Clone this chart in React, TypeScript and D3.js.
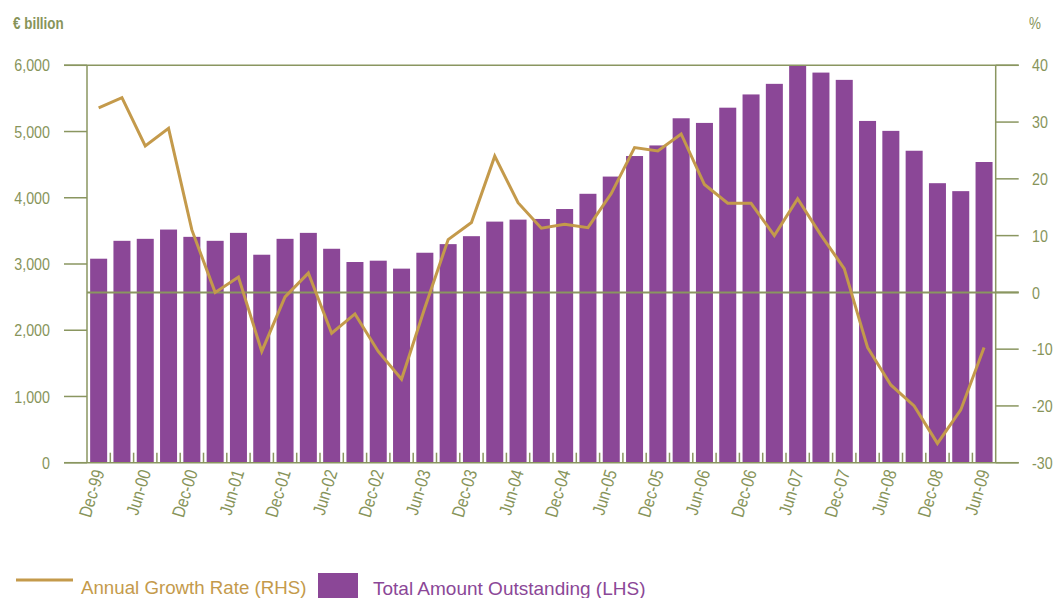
import * as d3 from "d3";
import React from "react";

const quarters = [
  "Dec-99", "Mar-00", "Jun-00", "Sep-00", "Dec-00", "Mar-01", "Jun-01", "Sep-01",
  "Dec-01", "Mar-02", "Jun-02", "Sep-02", "Dec-02", "Mar-03", "Jun-03", "Sep-03",
  "Dec-03", "Mar-04", "Jun-04", "Sep-04", "Dec-04", "Mar-05", "Jun-05", "Sep-05",
  "Dec-05", "Mar-06", "Jun-06", "Sep-06", "Dec-06", "Mar-07", "Jun-07", "Sep-07",
  "Dec-07", "Mar-08", "Jun-08", "Sep-08", "Dec-08", "Mar-09", "Jun-09",
];

// Total Amount Outstanding (LHS), € billion
const amounts = [
  3080, 3350, 3380, 3520, 3410, 3350, 3470, 3140, 3380, 3470,
  3230, 3030, 3050, 2930, 3170, 3300, 3420, 3640, 3670, 3680,
  3830, 4060, 4320, 4630, 4790, 5200, 5130, 5360, 5560, 5720,
  5990, 5890, 5780, 5160, 5010, 4710, 4220, 4100, 4540,
];

// Annual Growth Rate (RHS), %
const growth = [
  32.5, 34.3, 25.8, 28.9, 11.0, 0.0, 2.7, -10.4, -0.8, 3.4,
  -7.2, -3.8, -10.4, -15.3, -2.7, 9.3, 12.3, 24.0, 15.8, 11.3,
  12.0, 11.4, 17.4, 25.5, 24.9, 27.9, 19.0, 15.7, 15.7, 10.0,
  16.5, 10.1, 4.2, -9.7, -16.3, -20.0, -26.6, -20.7, -9.7,
];

const leftTicks = [0, 1000, 2000, 3000, 4000, 5000, 6000];
const rightTicks = [-30, -20, -10, 0, 10, 20, 30, 40];

const BAR = "#8b4797";
const LINE = "#c49a4b";
const AXIS = "#8a9660";
const TEXT = "#87945a";
const SANS = "'Liberation Sans', Arial, Helvetica, sans-serif";
const SQUEEZE = 0.84; // condensed look

export default function App() {
  const ref = React.useRef<SVGSVGElement>(null);

  React.useEffect(() => {
    const svg = d3.select(ref.current);
    svg.selectAll("*").remove();

    const left = 87, right = 995.7, top = 65.3, bottom = 462.7;
    const tickOut = 23;

    const x = d3.scaleBand<string>()
      .domain(quarters)
      .range([left, right])
      .paddingInner(0.27)
      .paddingOuter(0.135);
    const step = x.step();
    const cx = (q: string) => (x(q) as number) + x.bandwidth() / 2;

    const yL = d3.scaleLinear().domain([0, 6000]).range([bottom, top]);
    const yR = d3.scaleLinear().domain([-30, 40]).range([bottom, top]);

    // bars
    svg.append("g")
      .selectAll("rect")
      .data(amounts)
      .enter()
      .append("rect")
      .attr("x", (d, i) => x(quarters[i]) as number)
      .attr("y", (d) => yL(d))
      .attr("width", x.bandwidth())
      .attr("height", (d) => bottom - yL(d))
      .attr("fill", BAR);

    const axis = svg.append("g")
      .attr("stroke", AXIS)
      .attr("stroke-width", 1.5)
      .attr("fill", "none");

    // frame lines
    axis.append("line").attr("x1", left - tickOut).attr("x2", right + tickOut)
      .attr("y1", top).attr("y2", top);
    axis.append("line").attr("x1", left - tickOut).attr("x2", right + tickOut)
      .attr("y1", bottom).attr("y2", bottom);
    axis.append("line").attr("x1", left).attr("x2", left).attr("y1", top).attr("y2", bottom);
    axis.append("line").attr("x1", right).attr("x2", right).attr("y1", top).attr("y2", bottom);
    // zero line
    axis.append("line").attr("x1", left).attr("x2", right + tickOut)
      .attr("y1", yR(0)).attr("y2", yR(0)).attr("stroke-width", 2);

    // left ticks
    axis.selectAll(".lt")
      .data(leftTicks)
      .enter()
      .append("line")
      .attr("x1", left - tickOut).attr("x2", left)
      .attr("y1", (d) => yL(d)).attr("y2", (d) => yL(d));
    // right ticks
    axis.selectAll(".rt")
      .data(rightTicks)
      .enter()
      .append("line")
      .attr("x1", right).attr("x2", right + tickOut)
      .attr("y1", (d) => yR(d)).attr("y2", (d) => yR(d));
    // category ticks between bars
    axis.selectAll(".ct")
      .data(quarters.slice(1))
      .enter()
      .append("line")
      .attr("x1", (d, i) => left + (i + 1) * step)
      .attr("x2", (d, i) => left + (i + 1) * step)
      .attr("y1", bottom - 10).attr("y2", bottom);

    // growth line
    const line = d3.line<number>()
      .x((d, i) => cx(quarters[i]))
      .y((d) => yR(d));
    svg.append("path")
      .datum(growth)
      .attr("d", line)
      .attr("fill", "none")
      .attr("stroke", LINE)
      .attr("stroke-width", 3)
      .attr("stroke-linejoin", "miter");

    // left labels
    svg.append("g")
      .selectAll("text")
      .data(leftTicks)
      .enter()
      .append("text")
      .attr("transform", (d) => `translate(50, ${yL(d)}) scale(${SQUEEZE}, 1)`)
      .attr("dy", "0.36em")
      .attr("text-anchor", "end")
      .attr("fill", TEXT)
      .style("font-family", SANS)
      .style("font-size", "17px")
      .text((d) => d3.format(",")(d));

    // right labels
    svg.append("g")
      .selectAll("text")
      .data(rightTicks)
      .enter()
      .append("text")
      .attr("transform", (d) => `translate(1032, ${yR(d)}) scale(${SQUEEZE}, 1)`)
      .attr("dy", "0.36em")
      .attr("fill", TEXT)
      .style("font-family", SANS)
      .style("font-size", "17px")
      .text((d) => String(d));

    // units
    svg.append("text")
      .attr("transform", `translate(13, 29) scale(${SQUEEZE}, 1)`)
      .attr("fill", TEXT)
      .style("font-family", SANS)
      .style("font-size", "16px")
      .style("font-weight", "bold")
      .text("€ billion");
    svg.append("text")
      .attr("transform", `translate(1029, 29) scale(${SQUEEZE}, 1)`)
      .attr("fill", TEXT)
      .style("font-family", SANS)
      .style("font-size", "16px")
      .text("%");

    // category labels (every second quarter)
    svg.append("g")
      .selectAll("text")
      .data(quarters.filter((q, i) => i % 2 === 0))
      .enter()
      .append("text")
      .attr("transform", (d) => `translate(${cx(d) + 6}, 472) rotate(-73) scale(${SQUEEZE}, 1)`)
      .attr("text-anchor", "end")
      .attr("fill", TEXT)
      .style("font-family", SANS)
      .style("font-size", "18px")
      .text((d) => d);

    // legend
    const lg = svg.append("g");
    lg.append("line")
      .attr("x1", 16).attr("x2", 73).attr("y1", 580).attr("y2", 580)
      .attr("stroke", LINE).attr("stroke-width", 3);
    lg.append("text")
      .attr("x", 81).attr("y", 594)
      .attr("fill", LINE)
      .style("font-family", SANS)
      .style("font-size", "18.7px")
      .text("Annual Growth Rate (RHS)");
    lg.append("rect")
      .attr("x", 318).attr("y", 573).attr("width", 40).attr("height", 25)
      .attr("fill", BAR);
    lg.append("text")
      .attr("x", 373).attr("y", 595)
      .attr("fill", BAR)
      .style("font-family", SANS)
      .style("font-size", "19px")
      .text("Total Amount Outstanding (LHS)");
  }, []);

  return (
    <svg
      ref={ref}
      width={1055}
      height={598}
      style={{ position: "absolute", left: 0, top: 0, background: "#fff" }}
    />
  );
}
